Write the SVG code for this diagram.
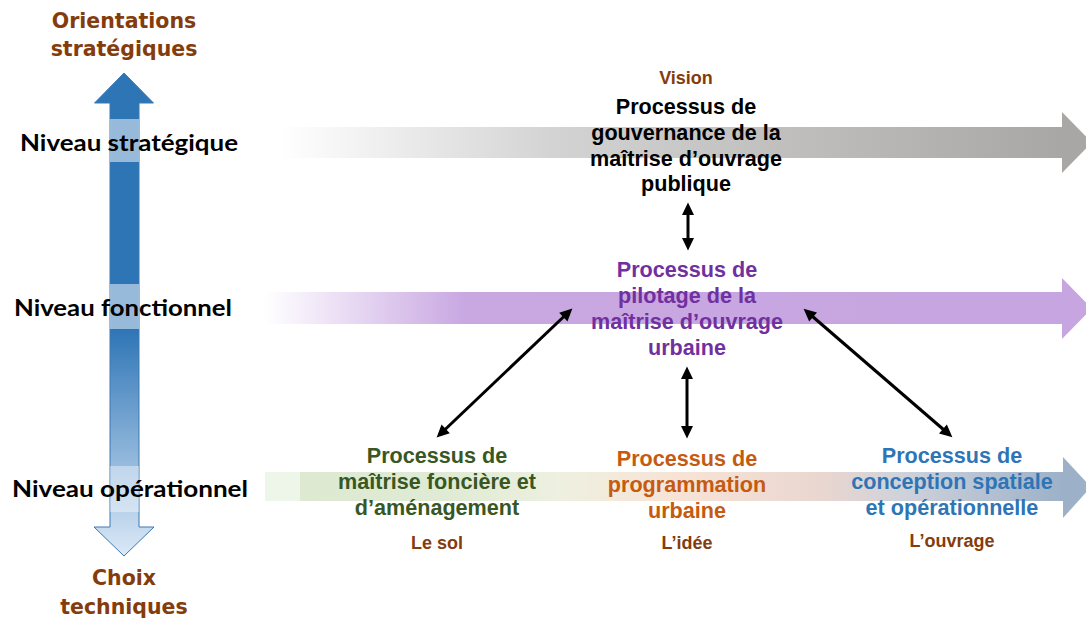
<svg xmlns="http://www.w3.org/2000/svg" width="1086" height="620" viewBox="0 0 1086 620">
  <style>
    .lvl { font-family: Lato, "Liberation Sans", sans-serif; font-weight: 700; font-size: 23px; fill: #000; }
    .axis { font-family: "DejaVu Sans", Verdana, sans-serif; font-weight: 700; font-size: 20.5px; fill: #843c0c; text-anchor: middle; }
    .proc { font-family: "Liberation Sans", Arial, sans-serif; font-weight: 700; font-size: 21.6px; text-anchor: middle; }
    .sub { font-family: "Liberation Sans", Arial, sans-serif; font-weight: 700; font-size: 18px; fill: #843c0c; text-anchor: middle; }
    .conn { stroke: #000; stroke-width: 3; fill: none; marker-start: url(#ah); marker-end: url(#ah); }
  </style>
  <defs>
    <marker id="ah" markerUnits="userSpaceOnUse" viewBox="-4 -7 15 14" refX="0" refY="0" markerWidth="15" markerHeight="14" orient="auto-start-reverse">
      <path d="M-3,-6 L9.5,0 L-3,6 Z" fill="#000"/>
    </marker>
    <linearGradient id="gGray" gradientUnits="userSpaceOnUse" x1="280" y1="0" x2="1062" y2="0">
      <stop offset="0" stop-color="#ffffff"/>
      <stop offset="0.35" stop-color="#d3d3d3"/>
      <stop offset="1" stop-color="#a9a7a5"/>
    </linearGradient>
    <linearGradient id="gPurple" gradientUnits="userSpaceOnUse" x1="265" y1="0" x2="1062" y2="0">
      <stop offset="0" stop-color="#ffffff"/>
      <stop offset="0.25" stop-color="#c9a8e2"/>
      <stop offset="1" stop-color="#c6a5e0"/>
    </linearGradient>
    <linearGradient id="gMulti" gradientUnits="userSpaceOnUse" x1="265" y1="0" x2="1063" y2="0">
      <stop offset="0" stop-color="#eef5e9"/>
      <stop offset="0.044" stop-color="#eef5e9"/>
      <stop offset="0.044" stop-color="#dde9d1"/>
      <stop offset="0.23" stop-color="#dfebd4"/>
      <stop offset="0.37" stop-color="#eef0e0"/>
      <stop offset="0.52" stop-color="#f7e3d6"/>
      <stop offset="0.70" stop-color="#e9d6d0"/>
      <stop offset="0.80" stop-color="#cfd2db"/>
      <stop offset="1" stop-color="#9cb1c8"/>
    </linearGradient>
    <linearGradient id="gVert" gradientUnits="userSpaceOnUse" x1="0" y1="73" x2="0" y2="556">
      <stop offset="0" stop-color="#2e75b6"/>
      <stop offset="0.53" stop-color="#2e75b6"/>
      <stop offset="1" stop-color="#dce9f7"/>
    </linearGradient>
  </defs>

  <!-- horizontal level bands -->
  <g id="band-strategique">
    <path d="M280,127 L1062,127 L1062,112 L1092,142.5 L1062,173 L1062,158 L280,158 Z" fill="url(#gGray)"/>
  </g>
  <g id="band-fonctionnel">
    <path d="M265,292 L1062,292 L1062,278 L1092,308.5 L1062,339 L1062,324 L265,324 Z" fill="url(#gPurple)"/>
  </g>
  <g id="band-operationnel">
    <path d="M265,472 L1063,472 L1063,457 L1091,487 L1063,518 L1063,501 L265,501 Z" fill="url(#gMulti)"/>
  </g>

  <!-- vertical double arrow -->
  <g id="axis-arrow">
    <path d="M124,73 L153.5,103 L139,103 L139,527 L154,527 L124,556 L94,527 L110,527 L110,103 L94.5,103 Z" fill="url(#gVert)" stroke="#3c78b4" stroke-width="1"/>
    <rect x="110" y="119" width="29" height="43" fill="#ffffff" opacity="0.5"/>
    <rect x="110" y="284" width="29" height="45" fill="#ffffff" opacity="0.5"/>
    <rect x="110" y="466" width="29" height="46" fill="#ffffff" opacity="0.4"/>
  </g>

  <g id="axis-top">
    <text class="axis" x="124" y="28">Orientations</text>
    <text class="axis" x="124" y="56">stratégiques</text>
  </g>
  <g id="axis-bottom">
    <text class="axis" x="124" y="585">Choix</text>
    <text class="axis" x="124" y="614">techniques</text>
  </g>

  <g id="level-labels">
    <text class="lvl" x="20" y="151" textLength="218" lengthAdjust="spacingAndGlyphs">Niveau stratégique</text>
    <text class="lvl" x="14" y="316" textLength="218" lengthAdjust="spacingAndGlyphs">Niveau fonctionnel</text>
    <text class="lvl" x="12" y="497" textLength="236" lengthAdjust="spacingAndGlyphs">Niveau opérationnel</text>
  </g>

  <!-- connectors -->
  <g id="connectors">
    <line class="conn" x1="688" y1="212" x2="688" y2="241"/>
    <line class="conn" x1="687" y1="376" x2="687" y2="429"/>
    <line class="conn" x1="565.5" y1="315" x2="443.5" y2="431"/>
    <line class="conn" x1="810.8" y1="315" x2="945.2" y2="431"/>
  </g>

  <g id="node-gouvernance">
    <text class="sub" x="686" y="84">Vision</text>
    <text class="proc" fill="#000" x="686" y="114">Processus de</text>
    <text class="proc" fill="#000" x="686" y="140">gouvernance de la</text>
    <text class="proc" fill="#000" x="686" y="166">maîtrise d’ouvrage</text>
    <text class="proc" fill="#000" x="686" y="191">publique</text>
  </g>

  <g id="node-pilotage">
    <text class="proc" fill="#7030a0" x="687" y="277">Processus de</text>
    <text class="proc" fill="#7030a0" x="687" y="303">pilotage de la</text>
    <text class="proc" fill="#7030a0" x="687" y="329">maîtrise d’ouvrage</text>
    <text class="proc" fill="#7030a0" x="687" y="355">urbaine</text>
  </g>

  <g id="node-fonciere">
    <text class="proc" fill="#385723" x="437" y="463">Processus de</text>
    <text class="proc" fill="#385723" x="437" y="489">maîtrise foncière et</text>
    <text class="proc" fill="#385723" x="437" y="515">d’aménagement</text>
    <text class="sub" x="437" y="549">Le sol</text>
  </g>

  <g id="node-programmation">
    <text class="proc" fill="#c55a11" x="687" y="466">Processus de</text>
    <text class="proc" fill="#c55a11" x="687" y="492">programmation</text>
    <text class="proc" fill="#c55a11" x="687" y="518">urbaine</text>
    <text class="sub" x="687" y="549">L’idée</text>
  </g>

  <g id="node-conception">
    <text class="proc" fill="#2e75b6" x="952" y="463">Processus de</text>
    <text class="proc" fill="#2e75b6" x="952" y="489">conception spatiale</text>
    <text class="proc" fill="#2e75b6" x="952" y="515">et opérationnelle</text>
    <text class="sub" x="952" y="547">L’ouvrage</text>
  </g>
</svg>
